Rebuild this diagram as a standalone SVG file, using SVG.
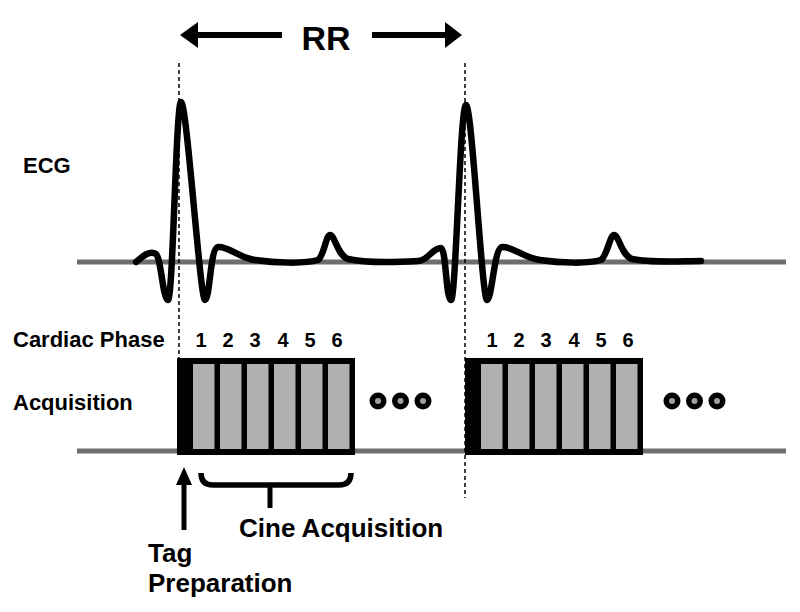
<svg xmlns="http://www.w3.org/2000/svg" width="800" height="612" viewBox="0 0 800 612">
<style>
  text { font-family: "Liberation Sans", Arial, sans-serif; font-weight: bold; fill: #000; }
  .lbl { font-size: 22px; }
  .num { font-size: 20px; text-anchor: middle; }
  .big { font-size: 26px; }
  .base { stroke: #6e6e6e; stroke-width: 5; fill: none; }
  .ecg { stroke: #000; stroke-width: 6.5; fill: none; stroke-linejoin: round; stroke-linecap: round; }
  .dash { stroke: #000; stroke-width: 1.5; stroke-dasharray: 4 3; fill: none; }
  .cell { fill: #b0b0b0; }
  .thick { stroke: #000; stroke-width: 5.5; fill: none; }
</style>
<defs>
  <g id="block">
    <rect x="0" y="0" width="178" height="97" fill="#000"/>
    <rect class="cell" x="16" y="6" width="21.5" height="85"/>
    <rect class="cell" x="43" y="6" width="21.5" height="85"/>
    <rect class="cell" x="70" y="6" width="21.5" height="85"/>
    <rect class="cell" x="97" y="6" width="21.5" height="85"/>
    <rect class="cell" x="124" y="6" width="21.5" height="85"/>
    <rect class="cell" x="151" y="6" width="21.5" height="85"/>
  </g>
  <g id="dots">
    <circle cx="0" cy="0" r="8.5" fill="#000"/>
    <circle cx="0" cy="0" r="3" fill="#a0a0a0"/>
    <circle cx="22.5" cy="0" r="8.5" fill="#000"/>
    <circle cx="22.5" cy="0" r="3" fill="#a0a0a0"/>
    <circle cx="45" cy="0" r="8.5" fill="#000"/>
    <circle cx="45" cy="0" r="3" fill="#a0a0a0"/>
  </g>
</defs>

<g id="labels">
  <text class="lbl" x="23" y="173">ECG</text>
  <text class="lbl" x="13" y="347">Cardiac Phase</text>
  <text class="lbl" x="13" y="410">Acquisition</text>
</g>

<g id="baselines">
  <line class="base" x1="77" y1="262" x2="786" y2="262"/>
  <line class="base" x1="77" y1="451" x2="786" y2="451"/>
</g>

<g id="ecg">
  <path class="ecg" d="M136,262 C143,256 150,250 156,254 C161,258 163,300 168,300 C173,300 176,102 181,102 C187,102 200,300 205,300 C210,300 210,248 218,247 C228,246 240,258 255,260 C275,263 305,264 318,260 C324,256 326,235 330,235 C335,235 337,255 348,259 C365,263 400,262 418,261 C428,261 432,248 441,248 C446,248 446,300 451,300 C456,300 460,105 466,105 C472,105 482,300 487,300 C492,300 494,248 502,247 C512,246 524,258 540,260 C560,263 588,264 601,260 C607,256 610,235 614,235 C619,235 621,255 632,259 C650,263 680,261 701,261"/>
</g>

<g id="connectors">
  <line class="dash" x1="179" y1="63" x2="179" y2="358"/>
  <line class="dash" x1="465" y1="63" x2="465" y2="498"/>
  <line x1="195" y1="35" x2="282" y2="35" stroke="#000" stroke-width="6"/>
  <polygon points="180,35 198,22 198,48" fill="#000"/>
  <line x1="372" y1="35" x2="448" y2="35" stroke="#000" stroke-width="6"/>
  <polygon points="462,35 445,22 445,48" fill="#000"/>
  <line x1="184" y1="482" x2="184" y2="530" stroke="#000" stroke-width="5"/>
  <polygon points="184,467 176,485 192,485" fill="#000"/>
  <path class="thick" d="M201,473 Q201,485 213,485 L339,485 Q351,485 351,473"/>
  <line x1="270" y1="485" x2="270" y2="508" stroke="#000" stroke-width="5"/>
</g>

<g id="rr-label">
  <text x="326" y="50" font-size="34" text-anchor="middle">RR</text>
</g>

<g id="block1">
  <use href="#block" x="177" y="358"/>
  <text class="num" x="201" y="347">1</text>
  <text class="num" x="228" y="347">2</text>
  <text class="num" x="255" y="347">3</text>
  <text class="num" x="283" y="347">4</text>
  <text class="num" x="310" y="347">5</text>
  <text class="num" x="337" y="347">6</text>
  <use href="#dots" x="378" y="401"/>
</g>

<g id="block2">
  <use href="#block" x="465" y="358"/>
  <text class="num" x="492" y="347">1</text>
  <text class="num" x="519" y="347">2</text>
  <text class="num" x="546" y="347">3</text>
  <text class="num" x="574" y="347">4</text>
  <text class="num" x="601" y="347">5</text>
  <text class="num" x="628" y="347">6</text>
  <use href="#dots" x="672" y="401"/>
</g>

<g id="tag-prep">
  <text class="big" x="148" y="562">Tag</text>
  <text class="big" x="148" y="592">Preparation</text>
</g>

<g id="cine">
  <text class="big" x="239" y="537">Cine Acquisition</text>
</g>
</svg>
